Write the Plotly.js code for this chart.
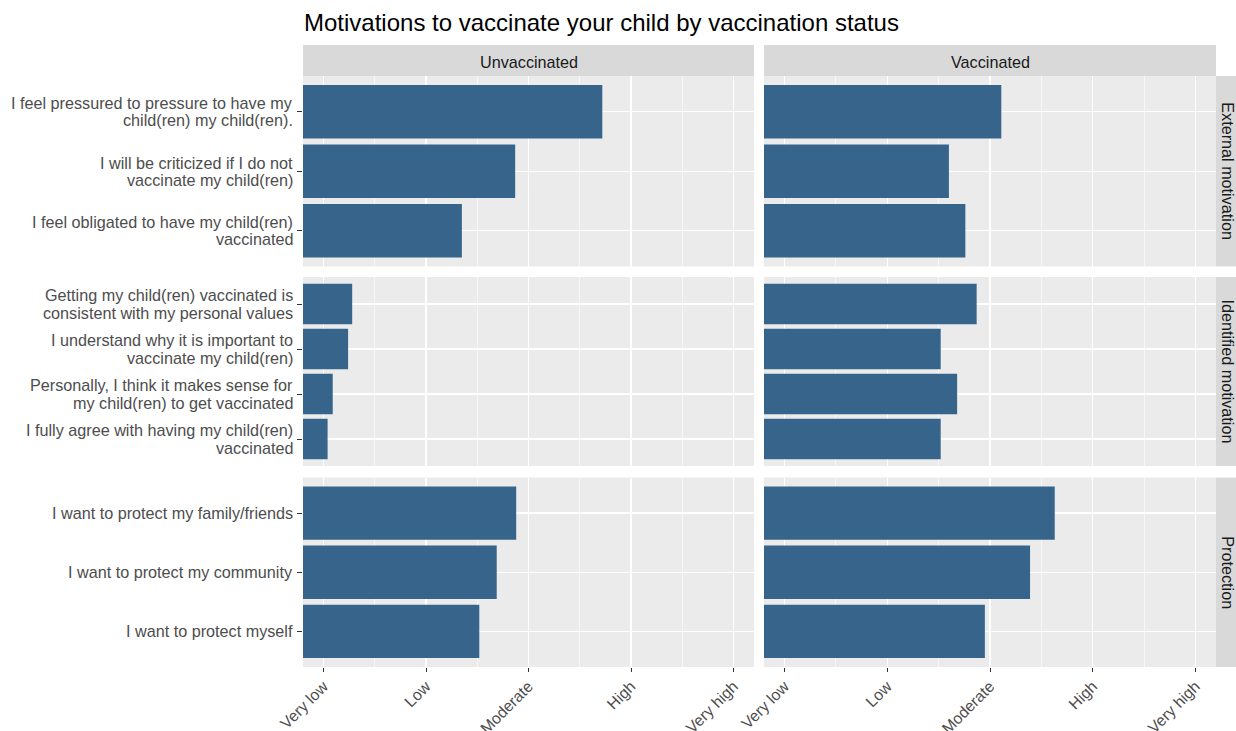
<!DOCTYPE html>
<html>
<head>
<meta charset="utf-8">
<script src="https://cdn.plot.ly/plotly-3.0.1.min.js"></script>
<style>html,body{margin:0;padding:0;background:#fff;}#chart{width:1236px;height:731px;}</style>
</head>
<body>
<div id="chart"></div>
<script>
// ---------- data ----------
var statuses = ["Unvaccinated", "Vaccinated"];
var groups = ["External motivation", "Identified motivation", "Protection"];
var levelLabels = ["Very low", "Low", "Moderate", "High", "Very high"];
var levelValues = [1, 2, 3, 4, 5];

var externalItems = [
  "I feel pressured to pressure to have my<br>child(ren) my child(ren).",
  "I will be criticized if I do not<br>vaccinate my child(ren)",
  "I feel obligated to have my child(ren)<br>vaccinated"
];
var identifiedItems = [
  "Getting my child(ren) vaccinated is<br>consistent with my personal values",
  "I understand why it is important to<br>vaccinate my child(ren)",
  "Personally, I think it makes sense for<br>my child(ren) to get vaccinated",
  "I fully agree with having my child(ren)<br>vaccinated"
];
var protectionItems = [
  "I want to protect my family/friends",
  "I want to protect my community",
  "I want to protect myself"
];

var externalUnvacc = [3.72, 2.87, 2.35];
var externalVacc   = [3.11, 2.60, 2.76];
var identifiedUnvacc = [1.28, 1.24, 1.09, 1.04];
var identifiedVacc   = [2.87, 2.52, 2.68, 2.52];
var protectionUnvacc = [2.88, 2.69, 2.52];
var protectionVacc   = [3.63, 3.39, 2.95];

// ---------- layout geometry (pixels) ----------
var W = 1236, H = 731;
var cols = [[303, 754], [764, 1216]];
var rows = [[76, 266.5], [277, 466], [477.5, 667]];
function px(x){ return x / W; }
function py(y){ return 1 - y / H; }

var FONT = "Liberation Sans, Arial, Helvetica, sans-serif";
var barColor = "#36648B";
var LABEL_SIZE = 16.2;
var LINE_GAP = 17.2;

var itemsByRow = [externalItems, identifiedItems, protectionItems];
var valuesByRow = [[externalUnvacc, externalVacc], [identifiedUnvacc, identifiedVacc], [protectionUnvacc, protectionVacc]];

var data = [];
var layout = {
  width: W, height: H,
  margin: {l: 0, r: 0, t: 0, b: 0},
  paper_bgcolor: "#ffffff",
  plot_bgcolor: "#EBEBEB",
  showlegend: false,
  font: {family: FONT, color: "#4D4D4D"},
  shapes: [],
  annotations: []
};

var idx = 0;
for (var r = 0; r < 3; r++) {
  for (var c = 0; c < 2; c++) {
    idx++;
    var xn = idx === 1 ? "x" : "x" + idx;
    var yn = idx === 1 ? "y" : "y" + idx;
    var xk = idx === 1 ? "xaxis" : "xaxis" + idx;
    var yk = idx === 1 ? "yaxis" : "yaxis" + idx;
    var items = itemsByRow[r];
    data.push({
      type: "bar", orientation: "h",
      x: valuesByRow[r][c], y: items,
      xaxis: xn, yaxis: yn,
      width: 0.9,
      marker: {color: barColor, line: {width: 0}},
      hoverinfo: "skip"
    });
    var bottom = (r === 2);
    layout[xk] = {
      domain: [px(cols[c][0]), px(cols[c][1])],
      anchor: yn,
      range: [0.8, 5.2], autorange: false,
      tickmode: "array", tickvals: levelValues, ticktext: levelLabels,
      showticklabels: bottom,
      ticks: bottom ? "outside" : "", ticklen: 4, tickwidth: 1, tickcolor: "#333333",
      tickangle: -45,
      ticklabelstandoff: -1,
      tickfont: {family: FONT, size: 15.8, color: "#4D4D4D"},
      showgrid: true, gridcolor: "#ffffff", gridwidth: 1.3,
      minor: {tickmode: "array", tickvals: [1.5, 2.5, 3.5, 4.5], showgrid: true, gridcolor: "#ffffff", gridwidth: 0.6, ticks: ""},
      zeroline: false, showline: false, fixedrange: true
    };
    layout[yk] = {
      domain: [py(rows[r][1]), py(rows[r][0])],
      anchor: xn,
      type: "category",
      categoryorder: "array", categoryarray: items,
      range: [items.length - 0.4, -0.6], autorange: false,
      showticklabels: false,
      ticks: c === 0 ? "outside" : "", ticklen: 5, tickwidth: 1, tickcolor: "#333333",
      showgrid: true, gridcolor: "#ffffff", gridwidth: 1.3,
      zeroline: false, showline: false, fixedrange: true
    };
    // y category labels (left column), one annotation per text line, placed on the category
    if (c === 0) {
      for (var i = 0; i < items.length; i++) {
        var lines = items[i].split("<br>");
        for (var k = 0; k < lines.length; k++) {
          var shift = (((lines.length - 1) / 2) - k) * LINE_GAP;
          layout.annotations.push({
            xref: "paper", yref: yn, x: px(295), y: items[i],
            xanchor: "right", yanchor: "middle", yshift: shift,
            showarrow: false, text: lines[k], align: "right",
            font: {family: FONT, size: LABEL_SIZE, color: "#4D4D4D"}
          });
        }
      }
    }
  }
}

// strips: top
for (var c = 0; c < 2; c++) {
  layout.shapes.push({type: "rect", xref: "paper", yref: "paper",
    x0: px(cols[c][0]), x1: px(cols[c][1]), y0: py(76), y1: py(45),
    fillcolor: "#D9D9D9", line: {width: 0}, layer: "below"});
  layout.annotations.push({xref: "paper", yref: "paper",
    x: px((cols[c][0] + cols[c][1]) / 2), y: py(62),
    xanchor: "center", yanchor: "middle", showarrow: false,
    text: statuses[c], font: {family: FONT, size: LABEL_SIZE, color: "#1A1A1A"}});
}
// strips: right
for (var r = 0; r < 3; r++) {
  layout.shapes.push({type: "rect", xref: "paper", yref: "paper",
    x0: px(1216), x1: px(1237), y0: py(rows[r][1]), y1: py(rows[r][0]),
    fillcolor: "#D9D9D9", line: {width: 0}, layer: "below"});
  layout.annotations.push({xref: "paper", yref: "paper",
    x: px(1228), y: py((rows[r][0] + rows[r][1]) / 2),
    xanchor: "center", yanchor: "middle", showarrow: false, textangle: 90,
    text: groups[r], font: {family: FONT, size: LABEL_SIZE, color: "#1A1A1A"}});
}
// title
layout.annotations.push({xref: "paper", yref: "paper",
  x: px(302), y: py(23), xanchor: "left", yanchor: "middle", showarrow: false,
  text: "Motivations to vaccinate your child by vaccination status",
  font: {family: FONT, size: 24, color: "#000000"}});

Plotly.newPlot("chart", data, layout, {displayModeBar: false, staticPlot: true});
</script>
</body>
</html>
